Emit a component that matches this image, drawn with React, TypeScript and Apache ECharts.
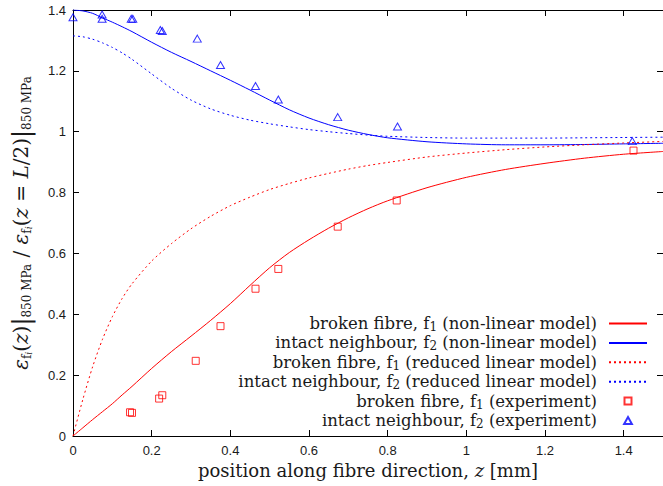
import React, { useEffect, useRef } from "react";
import * as echarts from "echarts";

const X_LINE = [0, 0.025, 0.05, 0.075, 0.1, 0.125, 0.15, 0.2, 0.25, 0.3, 0.35, 0.4, 0.45, 0.5, 0.55, 0.6, 0.65, 0.7, 0.75, 0.8, 0.9, 1.0, 1.1, 1.2, 1.3, 1.4, 1.5];
const BROKEN_NONLINEAR = [0, 0.027, 0.054, 0.08, 0.106, 0.135, 0.163, 0.222, 0.277, 0.328, 0.38, 0.435, 0.495, 0.553, 0.603, 0.645, 0.683, 0.717, 0.747, 0.773, 0.816, 0.85, 0.876, 0.896, 0.913, 0.926, 0.935];
const INTACT_NONLINEAR = [1.4, 1.397, 1.389, 1.374, 1.36, 1.345, 1.329, 1.294, 1.261, 1.231, 1.2, 1.169, 1.137, 1.104, 1.072, 1.045, 1.023, 1.005, 0.991, 0.98, 0.967, 0.96, 0.957, 0.957, 0.958, 0.96, 0.962];
const BROKEN_LINEAR = [0, 0.12, 0.228, 0.318, 0.392, 0.452, 0.5, 0.575, 0.632, 0.681, 0.722, 0.757, 0.785, 0.81, 0.83, 0.848, 0.863, 0.877, 0.889, 0.899, 0.917, 0.93, 0.941, 0.95, 0.957, 0.963, 0.968];
const INTACT_LINEAR = [1.315, 1.312, 1.304, 1.292, 1.277, 1.259, 1.238, 1.19, 1.143, 1.104, 1.075, 1.054, 1.038, 1.026, 1.016, 1.007, 1.0, 0.994, 0.989, 0.985, 0.981, 0.979, 0.979, 0.979, 0.98, 0.981, 0.982];

const BROKEN_EXP_X = [0.145, 0.15, 0.219, 0.227, 0.312, 0.375, 0.464, 0.522, 0.673, 0.823, 1.425];
const BROKEN_EXP_Y = [0.078, 0.076, 0.123, 0.134, 0.247, 0.361, 0.484, 0.549, 0.688, 0.774, 0.938];
const INTACT_EXP_X = [0, 0.074, 0.074, 0.148, 0.152, 0.222, 0.227, 0.316, 0.375, 0.464, 0.522, 0.673, 0.825, 1.422];
const INTACT_EXP_Y = [1.376, 1.385, 1.371, 1.371, 1.371, 1.334, 1.331, 1.306, 1.219, 1.15, 1.106, 1.048, 1.017, 0.969];

const SERIES_NAMES = [
  "broken fibre, f1 (non-linear model)",
  "intact neighbour, f2 (non-linear model)",
  "broken fibre, f1 (reduced linear model)",
  "intact neighbour, f2 (reduced linear model)",
  "broken fibre, f1 (experiment)",
  "intact neighbour, f2 (experiment)",
];

const RED = "#ff0000";
const BLUE = "#0000ff";
const SERIF = "'DejaVu Serif', 'Liberation Serif', serif";
const SANS = "'Liberation Sans', Arial, sans-serif";
const TXT = "#1a1a1a";

const pairs = (xs: number[], ys: number[]) => xs.map((x, i) => [x, ys[i]]);

function legendLabel(name: string): string {
  const m = name.match(/^(.*f)([12])(.*)$/);
  if (!m) return `{t|${name}}{g| }`;
  return `{t|${m[1]}}{s|${m[2]}}{t|${m[3]}}{g| }`;
}

export default function App() {
  const ref = useRef<HTMLDivElement>(null);
  useEffect(() => {
    if (!ref.current) return;
    const chart = echarts.init(ref.current, undefined, { renderer: "svg" });
    const tick = { show: true, inside: true, length: 6, lineStyle: { color: "#000", width: 1 } };
    const axisLine = { show: true, onZero: false, lineStyle: { color: "#000", width: 1 } };
    const lineSeries = (name: string, ys: number[], color: string, dotted: boolean) => ({
      name,
      type: "line",
      data: pairs(X_LINE, ys),
      symbol: "none",
      smooth: 0.25,
      lineStyle: { color, width: 1, type: dotted ? [2, 3] : "solid" },
      itemStyle: { color },
      z: 2,
    });
    const hiddenSymbol = { color: "transparent", borderColor: "transparent", borderWidth: 0 };
    chart.setOption({
      animation: false,
      backgroundColor: "#fff",
      grid: { left: 73, right: -3, top: 10, bottom: 50 },
      legend: {
        orient: "vertical",
        align: "right",
        right: 15,
        top: 315,
        padding: 0,
        itemGap: 1.4,
        itemWidth: 38,
        itemHeight: 7,
        selectedMode: false,
        symbolKeepAspect: true,
        data: [
          { name: SERIES_NAMES[0], itemStyle: hiddenSymbol },
          { name: SERIES_NAMES[1], itemStyle: hiddenSymbol },
          { name: SERIES_NAMES[2], itemStyle: hiddenSymbol },
          { name: SERIES_NAMES[3], itemStyle: hiddenSymbol },
          { name: SERIES_NAMES[4], icon: "path://M0 0H10V10H0Z" },
          { name: SERIES_NAMES[5], icon: "path://M5 0L10 9H0Z" },
        ],
        formatter: legendLabel,
        textStyle: {
          color: TXT,
          fontFamily: SERIF,
          fontSize: 16.5,
          rich: {
            t: { fontFamily: SERIF, fontSize: 16.5, lineHeight: 19, color: TXT },
            s: { fontFamily: SERIF, fontSize: 12, lineHeight: 9, verticalAlign: "bottom", color: TXT },
            g: { fontFamily: SERIF, fontSize: 10, width: 7, lineHeight: 19, color: TXT },
          },
        },
      },
      xAxis: [
        {
          type: "value",
          min: 0,
          max: 1.5,
          interval: 0.2,
          position: "bottom",
          axisLine,
          axisTick: tick,
          splitLine: { show: false },
          axisLabel: { color: TXT, fontFamily: SANS, fontSize: 13, margin: 8, showMaxLabel: false },
          name: "{n|position along fibre direction, }{e|z}{n| [mm]}",
          nameLocation: "middle",
          nameGap: 21,
          nameTextStyle: {
            rich: {
              n: { fontFamily: SERIF, fontSize: 18, color: TXT },
              e: { fontFamily: SERIF, fontSize: 18, fontStyle: "italic", color: TXT },
            },
          },
        },
        {
          type: "value",
          min: 0,
          max: 1.5,
          interval: 0.2,
          position: "top",
          axisLine,
          axisTick: tick,
          splitLine: { show: false },
          axisLabel: { show: false },
        },
      ],
      yAxis: [
        {
          type: "value",
          min: 0,
          max: 1.4,
          interval: 0.2,
          position: "left",
          axisLine,
          axisTick: tick,
          splitLine: { show: false },
          axisLabel: { color: TXT, fontFamily: SANS, fontSize: 13, margin: 7 },
          name:
            "{e|ε}{s|f}{ss|i}{n|(}{e|z}{n|)}{bar||}{s|850 MPa}{n| / }{e|ε}{s|f}{ss|i}{n|(}{e|z}{n| = }{e|L}{n|/2)}{bar||}{s|850 MPa}",
          nameLocation: "middle",
          nameGap: 40,
          nameRotate: 90,
          nameTextStyle: {
            rich: {
              n: { fontFamily: SERIF, fontSize: 20, lineHeight: 24, color: TXT },
              e: { fontFamily: SERIF, fontSize: 20, lineHeight: 24, fontStyle: "italic", color: TXT },
              bar: { fontFamily: SERIF, fontSize: 24, lineHeight: 24, color: TXT },
              s: { fontFamily: SERIF, fontSize: 12, lineHeight: 10, verticalAlign: "bottom", color: TXT },
              ss: { fontFamily: SERIF, fontSize: 9, lineHeight: 5, verticalAlign: "bottom", fontStyle: "italic", color: TXT },
            },
          },
        },
        {
          type: "value",
          min: 0,
          max: 1.4,
          interval: 0.2,
          position: "right",
          axisLine,
          axisTick: tick,
          splitLine: { show: false },
          axisLabel: { show: false },
        },
      ],
      series: [
        lineSeries(SERIES_NAMES[0], BROKEN_NONLINEAR, RED, false),
        lineSeries(SERIES_NAMES[1], INTACT_NONLINEAR, BLUE, false),
        lineSeries(SERIES_NAMES[2], BROKEN_LINEAR, RED, true),
        lineSeries(SERIES_NAMES[3], INTACT_LINEAR, BLUE, true),
        {
          name: SERIES_NAMES[4],
          type: "scatter",
          data: pairs(BROKEN_EXP_X, BROKEN_EXP_Y),
          symbol: "rect",
          symbolSize: 7,
          itemStyle: { color: "transparent", borderColor: RED, borderWidth: 1 },
          z: 3,
        },
        {
          name: SERIES_NAMES[5],
          type: "scatter",
          data: pairs(INTACT_EXP_X, INTACT_EXP_Y),
          symbol: "triangle",
          symbolSize: [8, 7],
          itemStyle: { color: "transparent", borderColor: BLUE, borderWidth: 1 },
          z: 3,
        },
      ],
    });
    return () => chart.dispose();
  }, []);
  return (
    <div
      ref={ref}
      style={{ position: "fixed", left: 0, top: 0, width: 663, height: 486, background: "#fff" }}
    />
  );
}
